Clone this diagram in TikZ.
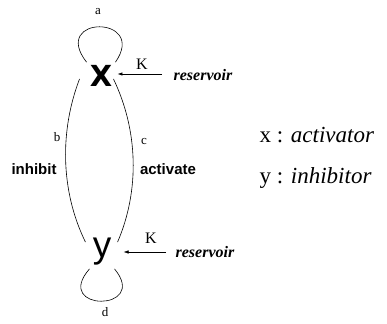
\documentclass[tikz,border=0pt]{standalone}
\usepackage{fontspec}
\setmainfont{Liberation Serif}
\setsansfont{Liberation Sans}
\newfontfamily\heavysans{DejaVu Sans}
\usetikzlibrary{arrows.meta}

\begin{document}
\begin{tikzpicture}[x=1pt,y=-1pt,line width=0.6pt,
  species/.style={inner sep=3pt},
  coef/.style={font=\fontsize{13}{15}\selectfont},
  rate/.style={font=\fontsize{16}{18}\selectfont},
  source/.style={font=\fontsize{16}{18}\selectfont\bfseries\itshape,anchor=west},
  effect/.style={font=\fontsize{15}{17}\selectfont\sffamily\bfseries},
  legendtxt/.style={font=\fontsize{23}{27}\selectfont,anchor=base west},
  inflow/.style={-{Latex[length=5pt,width=3.5pt]}}
]
\useasboundingbox (0,0) rectangle (387,323);
% the two species
\node[species,font=\fontsize{29}{33}\selectfont\heavysans\bfseries] (X) at (101,76) {X};
\node[species,font=\fontsize{37}{41}\selectfont\sffamily] (Y) at (102,252) {y};
% self loops
\draw (X.north west) .. controls (50,15) and (148,15) .. (X.north east);
\draw (Y.south west) .. controls (52,312) and (150,312) .. (Y.south east);
\node[coef] (a) at (98,12) {a};
\node[coef] (d) at (105,312) {d};
% cross links
\draw ([xshift=-7pt,yshift=-3pt]X.west) .. controls (60,130) and (60,190) .. ([xshift=-4pt,yshift=-7pt]Y.north west);
\draw ([xshift=-2pt,yshift=-3pt]X.east) .. controls (138,130) and (140,190) .. ([xshift=3pt,yshift=-7pt]Y.north east);
\node[coef] (b) at (57,137) {b};
\node[coef] (c) at (144,142) {c};
\node[effect] (inh) at (34,169) {inhibit};
\node[effect] (act) at (168,169) {activate};
% inflow from the reservoirs
\node[source] (resX) at (170,75) {reservoir};
\node[source] (resY) at (172,252) {reservoir};
\draw[inflow] ([xshift=-8pt,yshift=1pt]resX.west) -- ([xshift=2pt,yshift=1pt]resX.west -| X.east);
\draw[inflow] ([xshift=-6pt]resY.west) -- ([xshift=9pt]resY.west -| Y.east);
\node[rate] (kX) at (142,64) {K};
\node[rate] (kY) at (151,238) {K};
% legend
\node[legendtxt] (legX) at (256,142) {x : \textit{activator}};
\node[legendtxt] (legY) at (256,183) {y : \textit{inhibitor}};
\end{tikzpicture}
\end{document}
